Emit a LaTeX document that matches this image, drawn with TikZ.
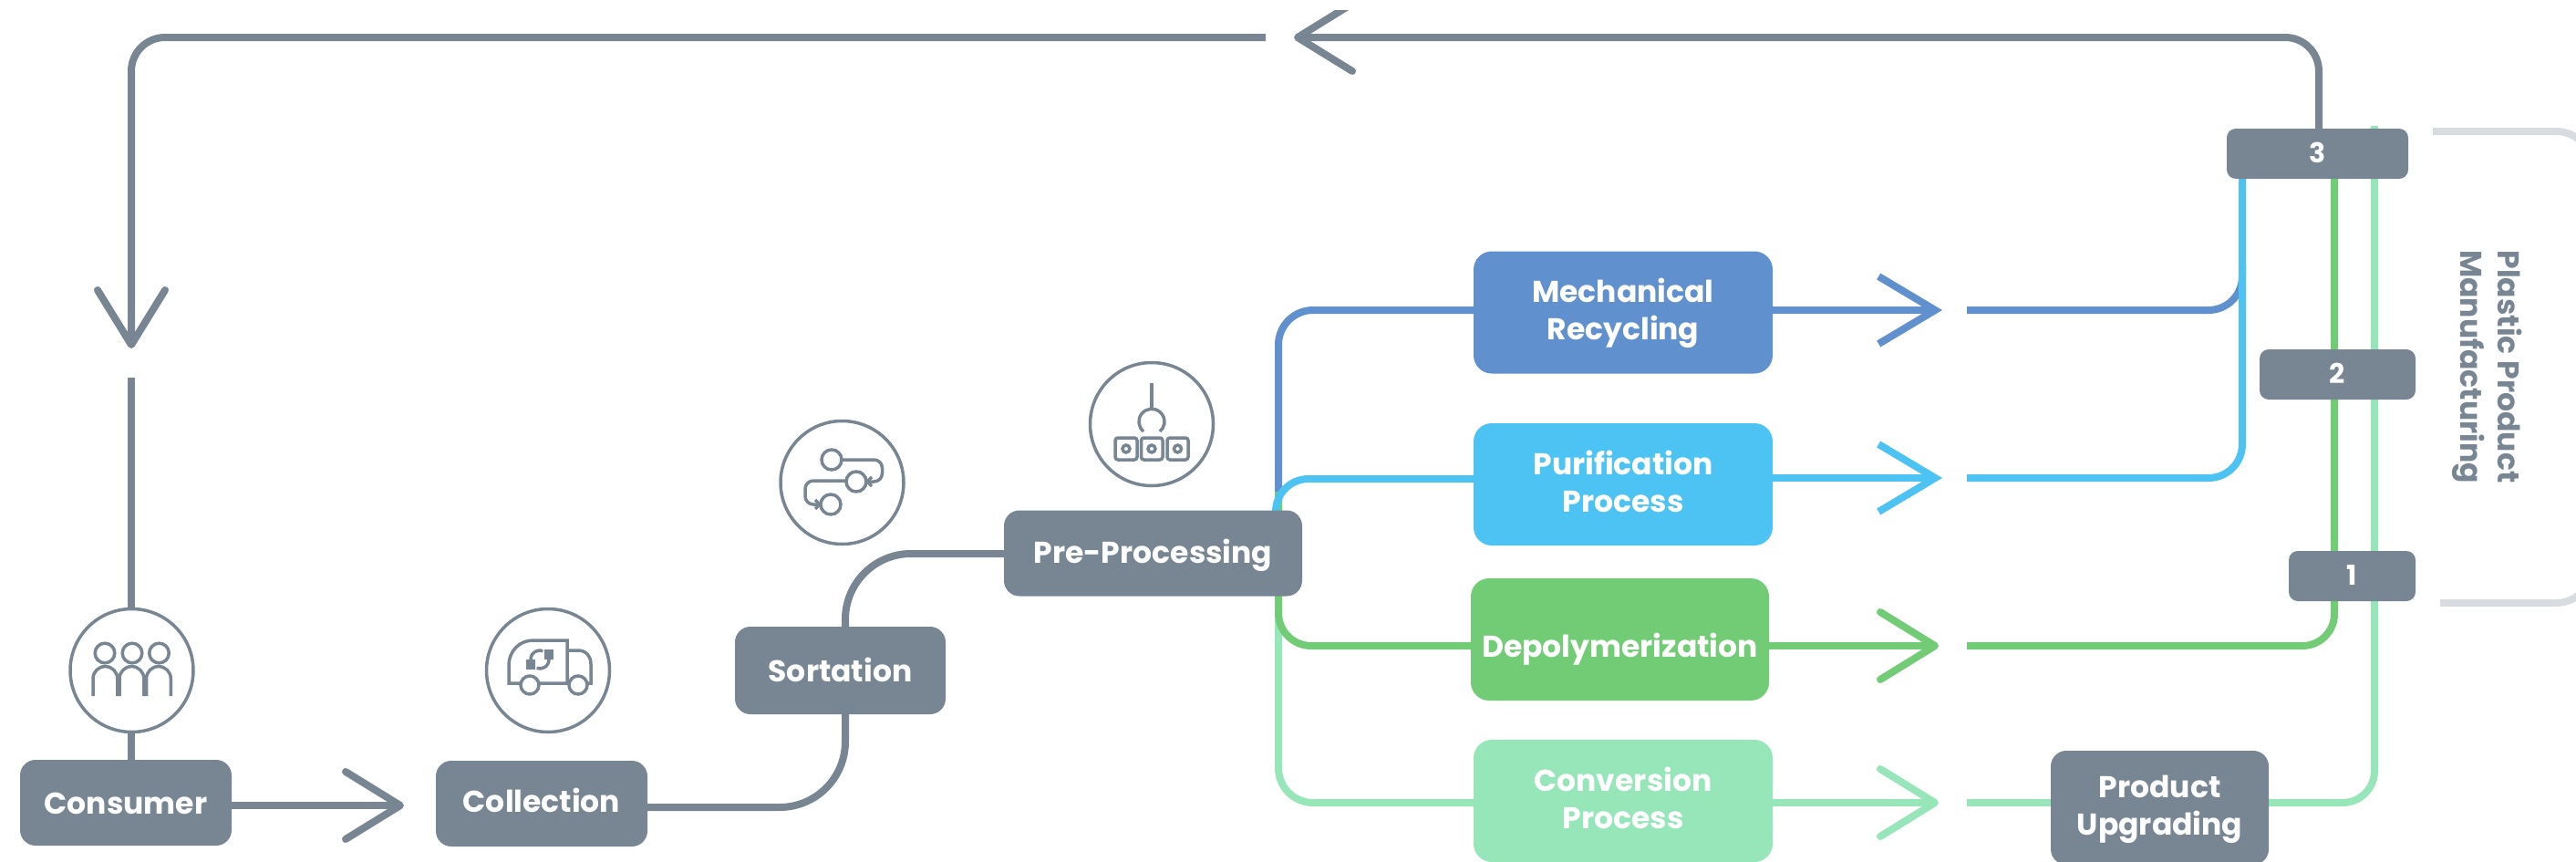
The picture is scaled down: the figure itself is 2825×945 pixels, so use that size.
\documentclass[tikz,border=0pt]{standalone}
\usepackage{fontspec}
\setmainfont{Poppins}
\usetikzlibrary{arrows.meta,backgrounds}
\definecolor{gr}{HTML}{778692}
\definecolor{dblue}{HTML}{6090CE}
\definecolor{lblue}{HTML}{4DC3F3}
\definecolor{grn}{HTML}{72CC76}
\definecolor{lgrn}{HTML}{96E6BA}
\definecolor{brk}{HTML}{D8DBDF}
\tikzset{
  boxbase/.style={rounded corners=17pt,inner sep=0pt,align=center,text=white,text depth=0pt,
    font=\fontsize{33}{41}\selectfont\bfseries},
  graybox/.style={boxbase,fill=gr},
  numbox/.style={boxbase,fill=gr,rounded corners=10pt,minimum height=55pt,text height=20pt,font=\fontsize{30}{30}\selectfont\bfseries},
  procbox/.style={boxbase,rounded corners=20pt,minimum width=328pt,minimum height=134pt,text height=60pt},
  iconring/.style={circle,draw=gr,line width=3.5pt,fill=white,minimum size=135pt,inner sep=0pt},
  icon/.style={draw=gr,line width=3.5pt},
  conn/.style={line width=8pt},
  rtip/.style={-{Straight Barb[length=60pt,width=74pt,round]}},
  stip/.style={-{Straight Barb[length=62pt,width=74pt,sharp]}},
  smallchev/.style={draw=gr,line width=3.5pt},
}
\begin{document}
\begin{tikzpicture}[x=1pt,y=-1pt]
\path[use as bounding box] (0,0) rectangle (2825,945);
\clip (0,0) rectangle (2825,945);
% nodes
\node[graybox,minimum width=232pt,minimum height=94pt,text height=24pt] (consumer) at (138,880) {Consumer};
\node[graybox,minimum width=232pt,minimum height=94pt,text height=18pt] (collection) at (594,881) {Collection};
\node[graybox,minimum width=231pt,minimum height=96pt,text height=24pt] (sortation) at (921.5,735) {Sortation};
\node[graybox,minimum width=327pt,minimum height=94pt,text height=22pt] (pre) at (1264.5,606.5) {Pre-Processing};
\node[procbox,fill=dblue] (mech) at (1780,342.5) {Mechanical\\Recycling};
\node[procbox,fill=lblue] (puri) at (1780,531) {Purification\\Process};
\node[procbox,fill=grn,minimum width=327pt,text height=38pt] (depo) at (1776.5,701) {Depolymerization};
\node[procbox,fill=lgrn] (conv) at (1780,878) {Conversion\\Process};
\node[graybox,minimum width=239pt,minimum height=125pt,text height=60pt] (upg) at (2368.5,885.5) {Product\\Upgrading};
\node[numbox,minimum width=199pt] (n3) at (2541.5,168.5) {3};
\node[numbox,minimum width=171pt] (n2) at (2563.5,410.5) {2};
\node[numbox,minimum width=139pt] (n1) at (2579.5,631.5) {1};
\node[rotate=-90,align=center,text=gr,inner sep=0pt,font=\fontsize{33}{41}\selectfont\bfseries] (ppm) at (2728,402) {Plastic Product\\Manufacturing};
\node[iconring] (ring1) at (144.5,735) {};
\node[iconring] (ring2) at (601,735) {};
\node[iconring] (ring3) at (923.5,529) {};
\node[iconring] (ring4) at (1263,465) {};
% free ends
\coordinate (t1) at (443,883);
\coordinate (t2) at (144,382);
\coordinate (t3) at (1419,41);
\coordinate (g1) at (1388,41);
\coordinate (g2) at (144,414);
\coordinate (am) at (2130,340);
\coordinate (ap) at (2130,524);
\coordinate (ad) at (2126,708);
\coordinate (ac) at (2126,880);
\coordinate (rm) at (2157,340);
\coordinate (rp) at (2157,524);
\coordinate (rd) at (2157,708);
\coordinate (rc) at (2157,880);
\begin{scope}[on background layer]
% gray connectors
\draw[conn,draw=gr,rtip] (consumer.east |- t1) -- (t1);
\draw[conn,draw=gr,rounded corners=72pt] (collection.east |- 0,885) -- (927,885) -- (sortation.south -| 927,0);
\draw[conn,draw=gr,rounded corners=72pt] (sortation.north -| 927,0) -- (927,607) -- (pre.west |- 0,607);
\draw[conn,draw=gr] (g2) -- (144,833);
\begin{scope}
\clip (0,11) rectangle (2825,945);
\draw[conn,draw=gr,rtip,rounded corners=37pt] (2543,141) -- (2543,41) -- (t3);
\end{scope}
\draw[conn,draw=gr,rtip,rounded corners=37pt] (g1) -- (144,41) -- (t2);
% process lines, left side
\draw[conn,draw=dblue,rounded corners=38pt] (1402,560) -- (1402,340) -- (mech.west |- 0,340);
\draw[conn,draw=lgrn,rounded corners=38pt] (1402,653) -- (1402,880) -- (conv.west |- 0,880);
\draw[conn,draw=grn,rounded corners=36pt] (1402,539) -- (1402,708) -- (depo.west |- 0,708);
\draw[conn,draw=lblue,rounded corners=36pt] (1399,560) -- (1399,525) -- (puri.west |- 0,525);
% process lines, centre
\draw[conn,draw=dblue,stip] (mech.east |- am) -- (am);
\draw[conn,draw=lblue,stip] (puri.east |- ap) -- (ap);
\draw[conn,draw=grn,rtip] (depo.east |- ad) -- (ad);
\draw[conn,draw=lgrn,rtip] (conv.east |- ac) -- (ac);
% right side
\draw[conn,draw=dblue,rounded corners=37pt] (rm) -- (2459,340) -- (2459,290);
\draw[conn,draw=lblue,rounded corners=37pt] (rp) -- (2459,524) -- (2459,190);
\draw[conn,draw=grn,rounded corners=35pt] (rd) -- (2560,708) -- (2560,190);
\draw[conn,draw=lgrn] (rc) -- (upg.west |- rc);
\draw[conn,draw=lgrn,rounded corners=35pt] (upg.east |- rc) -- (2604,880) -- (2604,138);
% bracket
\draw[conn,draw=brk,rounded corners=40pt] (2668,144) -- (2843,144) -- (2843,661) -- (2676,661);
\end{scope}
% consumer icon
\draw[icon] (115,716) circle (10.8pt) (145,716) circle (10.8pt) (174.5,716) circle (10.8pt);
\draw[icon] (102,763) -- (102,744) arc[start angle=180,end angle=0,radius=13.4pt] -- (128.8,763);
\draw[icon] (131,763) -- (131,744) arc[start angle=180,end angle=0,radius=13.4pt] -- (157.8,763);
\draw[icon] (160.5,763) -- (160.5,744) arc[start angle=180,end angle=0,radius=13.4pt] -- (187.3,763);
% truck icon
\draw[icon] (558,749) -- (558,730) .. controls (558,713) and (570,702) .. (585,702) -- (622,702) -- (622,749) -- cycle;
\draw[icon] (622,713) -- (634,713) .. controls (643,713) and (648,720) .. (648,728) -- (648,749) -- (622,749);
\draw[icon,fill=white] (581,751) circle (10pt) (634,751) circle (10pt);
\draw[icon] (582,723) arc[start angle=180,end angle=70,radius=10pt];
\draw[icon] (602,723) arc[start angle=0,end angle=-110,radius=10pt];
\fill[gr] (597,712) -- (607,712) -- (607,723) -- (597,723) -- cycle;
\fill[gr] (587,734) -- (577,734) -- (577,723) -- (587,723) -- cycle;
% sort icon
\draw[icon] (912,504) circle (11pt) (939,528) circle (11pt) (911,553) circle (11pt);
\draw[icon,rounded corners=9pt] (923,504) -- (967.5,504) -- (967.5,528) -- (953,528);
\draw[icon,rounded corners=9pt] (928,527) -- (883,527) -- (883,553) -- (898,553);
\draw[smallchev] (956,523) -- (951,528) -- (956,533);
\draw[smallchev] (894,548) -- (899,553) -- (894,558);
% pre-processing icon
\draw[icon] (1263,420) -- (1263,447);
\draw[icon] (1254,473) arc[start angle=230,end angle=-50,radius=14pt];
\draw[icon,rounded corners=3pt] (1223,480) rectangle (1247,504) (1251.5,480) rectangle (1275,504) (1280,480) rectangle (1303,504);
\draw[icon] (1235,492) circle (4pt) (1263,492) circle (4pt) (1291.5,492) circle (4pt);
\end{tikzpicture}
\end{document}
